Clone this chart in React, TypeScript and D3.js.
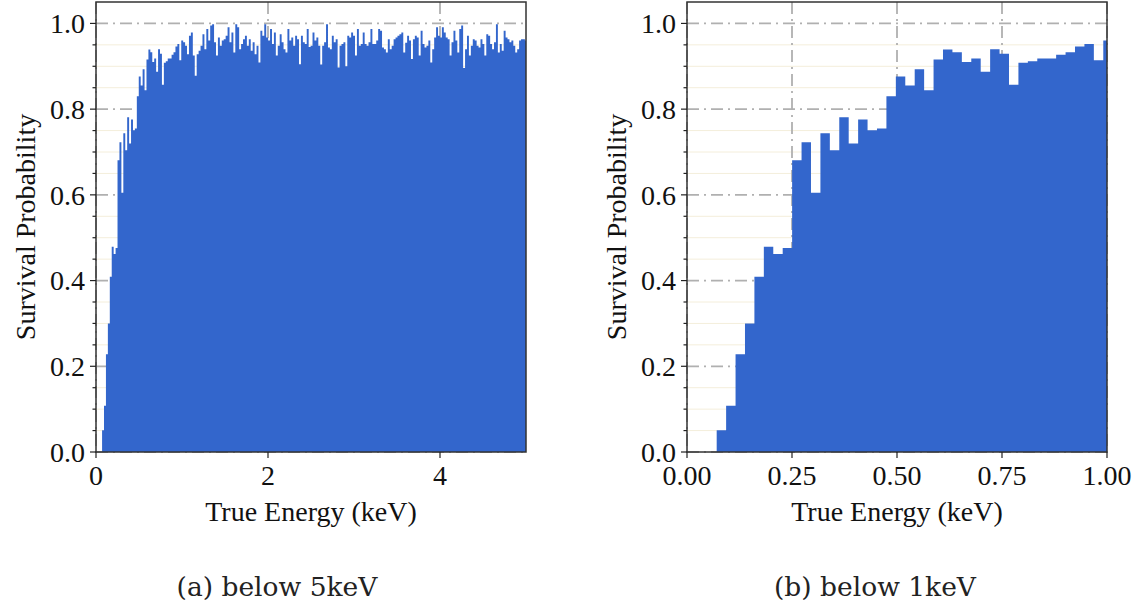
import React from "react";
import * as d3 from "d3";

// ---- data ----
const binStart = 0.0707; // keV, left edge of first bin
const binWidth = 0.02245; // keV

// Survival probability per bin, 0.07 – 1.0 keV (shared by both panels)
const lowEnergyValues = [
  0.051, 0.108, 0.228, 0.300, 0.409, 0.479, 0.462, 0.476, 0.681, 0.723,
  0.605, 0.744, 0.704, 0.781, 0.720, 0.776, 0.751, 0.755, 0.830, 0.876,
  0.855, 0.893, 0.844, 0.916, 0.939, 0.933, 0.910, 0.918, 0.887, 0.940,
  0.929, 0.857, 0.908, 0.912, 0.918, 0.918, 0.927, 0.933, 0.946, 0.952,
  0.914, 0.960,
];

// Survival probability per bin, 1.0 – 5.0 keV (left panel only)
const highEnergyValues = [
  0.956, 0.948, 0.928, 0.971, 0.979, 0.925, 0.878, 0.928, 0.936, 0.948,
  0.975, 0.940, 0.987, 0.960, 0.995, 0.998, 0.956, 0.925, 0.967, 0.948,
  0.960, 0.963, 0.971, 0.991, 0.956, 0.979, 0.932, 0.998, 0.991, 0.940,
  0.952, 0.963, 0.971, 0.948, 0.963, 0.936, 0.956, 0.928, 0.948, 0.909,
  0.983, 0.971,
  0.998, 0.967, 0.960, 0.987, 0.952, 0.979, 0.925, 0.948, 0.975, 0.956,
  0.940, 0.932, 0.987, 0.960, 0.967, 0.948, 0.971, 0.963, 0.905, 0.971,
  0.956, 0.952, 0.987, 0.945, 0.948, 0.979, 0.960, 0.967, 0.948, 0.904,
  0.948, 0.956, 0.998, 0.944, 0.940, 0.971, 0.956, 0.963, 0.897, 0.948,
  0.952, 0.956, 0.900, 0.971, 0.967,
  0.979, 0.971, 0.925, 0.987, 0.948, 0.952, 0.979, 0.952, 0.948, 0.956,
  0.987, 0.952, 0.952, 0.960, 0.987, 0.983, 0.944, 0.940, 0.932, 0.963,
  0.940, 0.948, 0.963, 0.967, 0.971, 0.975, 0.979, 0.932, 0.955, 0.971,
  0.960, 0.917, 0.963, 0.971, 0.967, 0.925, 0.983, 0.952, 0.944, 0.948,
  0.960, 0.909, 0.940, 0.967, 0.991,
  0.971, 0.967, 0.991, 0.979, 0.967, 0.963, 0.925, 0.956, 0.983, 0.960,
  0.932, 0.987, 0.995, 0.896, 0.940, 0.971, 0.925, 0.948, 0.963, 0.960,
  0.948, 0.944, 0.963, 0.952, 0.925, 0.975, 0.971, 0.952, 0.940, 0.956,
  0.998, 0.932, 0.952, 0.936, 0.983, 0.967, 0.963, 0.956, 0.960, 0.948,
  0.932, 0.940, 0.960, 0.963, 0.963, 0.960,
];

const leftValues = [...lowEnergyValues, ...highEnergyValues];
const rightValues = lowEnergyValues;

const leftXTicks = [0, 2, 4];
const rightXTicks = [0, 0.25, 0.5, 0.75, 1.0];
const yMajorTicks = [0, 0.2, 0.4, 0.6, 0.8, 1.0];
const yMinorTicks = d3.range(0, 21).map((i) => i * 0.05);

const xLabel = "True Energy (keV)";
const yLabel = "Survival Probability";
const captions = ["(a) below 5keV", "(b) below 1keV"];

// ---- styles ----
const BAR = "#3366cc";
const SERIF = "'Liberation Serif', 'Times New Roman', serif";
const CAPTION_FONT = "'DejaVu Serif', serif";

type PanelProps = {
  id: string;
  left: number;
  right: number;
  xMax: number;
  xTicks: number[];
  fmt: (v: number) => string;
  values: number[];
  caption: string;
  captionX: number;
};

const TOP = 2;
const BOTTOM = 452;

function Panel({ id, left, right, xMax, xTicks, fmt, values, caption, captionX }: PanelProps) {
  const xs = d3.scaleLinear().domain([0, xMax]).range([left, right]);
  const ys = d3.scaleLinear().domain([0, 1.05]).range([BOTTOM, TOP]);

  const pts = values.map((v, i) => ({ x: binStart + i * binWidth, y: v }));
  pts.push({ x: binStart + values.length * binWidth, y: values[values.length - 1] });
  const area = d3
    .area<{ x: number; y: number }>()
    .x((d) => xs(d.x))
    .y0(ys(0))
    .y1((d) => ys(d.y))
    .curve(d3.curveStepAfter);

  const isMajor = (t: number) => yMajorTicks.some((m) => Math.abs(m - t) < 1e-9);
  const yMid = (TOP + BOTTOM) / 2;
  const cx = (left + right) / 2;

  return (
    <g>
      <defs>
        <clipPath id={`clip-${id}`}>
          <rect x={left} y={TOP} width={right - left} height={BOTTOM - TOP} />
        </clipPath>
      </defs>
      {/* minor horizontal grid */}
      {yMinorTicks
        .filter((t) => !isMajor(t))
        .map((t) => (
          <line key={`mg${t}`} x1={left} x2={right} y1={ys(t)} y2={ys(t)} stroke="#f4eedb" strokeWidth={1} />
        ))}
      {/* major grid */}
      {yMajorTicks.map((t) => (
        <line
          key={`gy${t}`}
          x1={left}
          x2={right}
          y1={ys(t)}
          y2={ys(t)}
          stroke="#b0b0b0"
          strokeWidth={1.8}
          strokeDasharray="12,5,2,5"
        />
      ))}
      {xTicks.map((t) => (
        <line
          key={`gx${t}`}
          x1={xs(t)}
          x2={xs(t)}
          y1={TOP}
          y2={BOTTOM}
          stroke="#b0b0b0"
          strokeWidth={1.8}
          strokeDasharray="12,5,2,5"
        />
      ))}
      {/* bars */}
      <path d={area(pts) || ""} fill={BAR} clipPath={`url(#clip-${id})`} />
      {/* frame */}
      <rect x={left} y={TOP} width={right - left} height={BOTTOM - TOP} fill="none" stroke="#333" strokeWidth={1.5} />
      {/* y ticks */}
      {yMinorTicks.map((t) => (
        <line
          key={`yt${t}`}
          x1={left}
          x2={left - (isMajor(t) ? 6 : 3.5)}
          y1={ys(t)}
          y2={ys(t)}
          stroke="#222"
          strokeWidth={1.2}
        />
      ))}
      {yMajorTicks.map((t) => (
        <text
          key={`yl${t}`}
          x={left - 11}
          y={ys(t)}
          dy="0.35em"
          textAnchor="end"
          fontFamily={SERIF}
          fontSize={28}
          fill="#111"
        >
          {t.toFixed(1)}
        </text>
      ))}
      {/* x ticks */}
      {xTicks.map((t) => (
        <g key={`xt${t}`}>
          <line x1={xs(t)} x2={xs(t)} y1={BOTTOM} y2={BOTTOM + 6} stroke="#222" strokeWidth={1.2} />
          <text x={xs(t)} y={485} textAnchor="middle" fontFamily={SERIF} fontSize={28} fill="#111">
            {fmt(t)}
          </text>
        </g>
      ))}
      {/* axis labels */}
      <text x={cx} y={521} textAnchor="middle" fontFamily={SERIF} fontSize={28} fill="#111">
        {xLabel}
      </text>
      <text
        transform={`translate(${left - 71},${yMid}) rotate(-90)`}
        textAnchor="middle"
        dy="0.35em"
        fontFamily={SERIF}
        fontSize={28}
        fill="#111"
      >
        {yLabel}
      </text>
      {/* caption */}
      <text x={captionX} y={596} textAnchor="middle" fontFamily={CAPTION_FONT} fontSize={26.5} fill="#222">
        {caption}
      </text>
    </g>
  );
}

export default function App() {
  return (
    <svg
      width={1137}
      height={603}
      style={{ position: "absolute", left: 0, top: 0, display: "block", background: "#fff" }}
    >
      <rect width={1137} height={603} fill="#fff" />
      <Panel
        id="a"
        left={96}
        right={526}
        xMax={5}
        xTicks={leftXTicks}
        fmt={(v) => d3.format("d")(v)}
        values={leftValues}
        caption={captions[0]}
        captionX={277}
      />
      <Panel
        id="b"
        left={687}
        right={1107}
        xMax={1}
        xTicks={rightXTicks}
        fmt={(v) => v.toFixed(2)}
        values={rightValues}
        caption={captions[1]}
        captionX={875}
      />
    </svg>
  );
}
